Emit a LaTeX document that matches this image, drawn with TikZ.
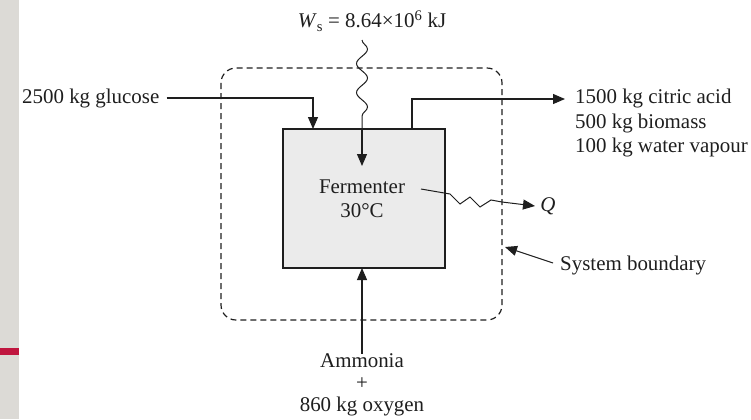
\documentclass[tikz,border=0pt]{standalone}
\usepackage{fontspec}
\setmainfont{Liberation Serif}
\usetikzlibrary{arrows.meta,decorations.pathmorphing}
\definecolor{strip}{RGB}{220,218,214}
\definecolor{redbar}{RGB}{192,22,63}
\definecolor{boxfill}{RGB}{235,235,235}
\definecolor{ink}{RGB}{30,30,30}
\begin{document}
\begin{tikzpicture}[x=1bp,y=-1bp,
  lbl/.style={font=\fontsize{21}{24.5}\selectfont, inner sep=0pt, text=ink},
  flow/.style={line width=1.1bp, draw=ink, -{Triangle[width=10bp,length=12bp]}},
  plain/.style={line width=1.1bp, draw=ink},
  boundary/.style={line width=1.2bp, draw=ink, dash pattern=on 6bp off 4bp, rounded corners=15bp},
  vessel/.style={line width=1.3bp, draw=ink, fill=boxfill}]
\useasboundingbox (0,0) rectangle (751,419);
\fill[strip] (0,0) rectangle (19,419);
\fill[redbar] (0,348) rectangle (19,355);
% system boundary
\draw[boundary] (221,68) rectangle (502,320);
% fermenter
\draw[vessel] (283,129) rectangle (445,268);
\node[lbl, align=center] (ferm) at (362,199) {Fermenter\\30°C};
% glucose in
\node[lbl, anchor=west] (glucose) at (22,98) {2500 kg glucose};
\coordinate (gin) at (313,129);
\draw[flow] ([xshift=7bp]glucose.east) -| (gin);
% products out
\coordinate (pout) at (412,129);
\node[lbl, anchor=west, align=left] (prod) at (575,123) {1500 kg citric acid\\500 kg biomass\\100 kg water vapour};
\coordinate (ptip) at (565,99);
\draw[flow] (pout) |- (ptip);
% work
\node[lbl] (ws) at (372,21) {\textit{W}\textsubscript{s} = 8.64×10\textsuperscript{6} kJ};
\coordinate (wtop) at (362,40);
\coordinate (wbot) at (362,130);
\coordinate (wtip) at (362,166);
\draw[plain, line width=1bp, decorate, decoration={snake, segment length=29bp, amplitude=5.5bp}] (wtop) -- (wbot);
\draw[flow] (wbot) -- (wtip);
% heat
\node[lbl, font=\fontsize{21}{24.5}\selectfont\itshape] (q) at (548,206) {Q};
\coordinate (qs) at (421,189);
\coordinate (qtip) at (535,206);
\draw[plain, line width=1bp] (qs) -- (450,194) -- (460,204) -- (470,197) -- (480,207) -- (491,200) -- (502,202);
\draw[flow, line width=1bp] (502,202) -- (qtip);
% system boundary label
\node[lbl, anchor=west] (sb) at (560,265) {System boundary};
\coordinate (sbtip) at (505,247);
\draw[flow, line width=1bp] (553,263) -- (sbtip);
% bottom feed
\node[lbl, align=center, font=\fontsize{21}{22}\selectfont] (feed) at (362,385) {Ammonia\\+\\860 kg oxygen};
\coordinate (fin) at (362,268);
\draw[flow] (feed.north) -- (fin);
\end{tikzpicture}
\end{document}
